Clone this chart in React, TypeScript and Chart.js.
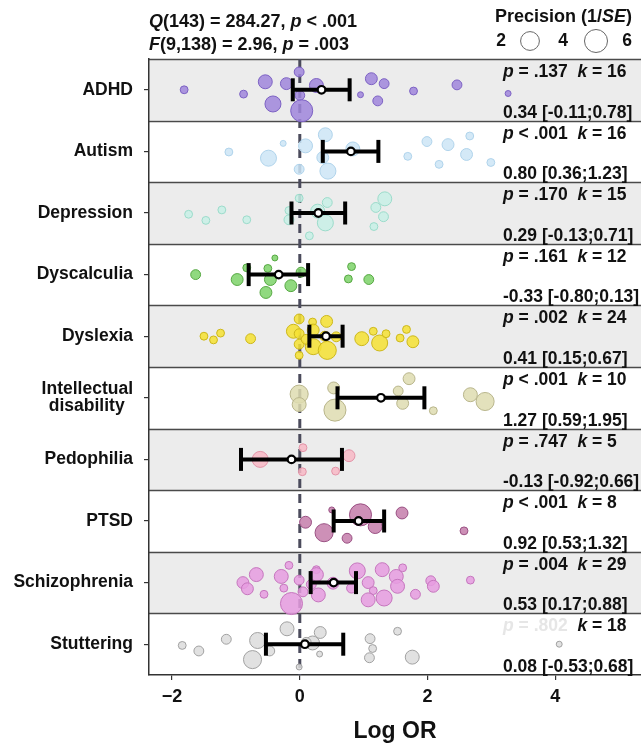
import React, { useEffect, useRef } from 'react';
import { Chart, registerables } from 'chart.js';
Chart.register(...registerables);

const FONT = '"Liberation Sans", Arial, Helvetica, sans-serif';

const categories = ['ADHD', 'Autism', 'Depression', 'Dyscalculia', 'Dyslexia', 'Intellectual disability', 'Pedophilia', 'PTSD', 'Schizophrenia', 'Stuttering'];
const estimates = [0.34, 0.80, 0.29, -0.33, 0.41, 1.27, -0.13, 0.92, 0.53, 0.08];
const ciLower = [-0.11, 0.36, -0.13, -0.80, 0.15, 0.59, -0.92, 0.53, 0.17, -0.53];
const ciUpper = [0.78, 1.23, 0.71, 0.13, 0.67, 1.95, 0.66, 1.32, 0.88, 0.68];
const pLabels = ['= .137', '< .001', '= .170', '= .161', '= .002', '< .001', '= .747', '< .001', '= .004', '= .802'];
const kValues = [16, 16, 15, 12, 24, 10, 5, 8, 29, 18];
const xTicks = [-2, 0, 2, 4];
const legendLabels = [2, 4, 6];
const legendKeys = [4, 6];

// studies: [log OR, precision (1/SE), vertical jitter]
const adhd = [[-1.81,0.7,0.00],[-0.88,0.7,0.07],[-0.54,2.2,-0.13],[-0.42,2.9,0.23],[-0.21,1.6,-0.10],[-0.01,1.1,-0.29],[0.00,1.1,0.09],[0.03,5.5,0.34],[0.26,2.2,-0.07],[0.95,0.4,0.08],[1.12,1.6,-0.18],[1.22,1.1,0.18],[1.32,1.1,-0.10],[1.78,0.7,0.02],[2.46,1.1,-0.08],[3.26,0.4,0.06]];
const autism = [[-1.11,0.7,0.01],[-0.49,2.9,0.11],[-0.26,0.4,-0.13],[0.09,2.2,-0.09],[-0.01,1.1,0.29],[0.40,2.2,-0.27],[0.36,1.6,0.10],[0.44,2.9,0.32],[0.83,2.2,-0.04],[1.69,0.7,0.08],[1.99,1.1,-0.16],[2.18,0.7,0.21],[2.32,1.6,-0.11],[2.61,1.6,0.05],[2.66,0.7,-0.25],[2.99,0.7,0.18]];
const depression = [[-1.74,0.7,0.02],[-1.47,0.7,0.12],[-1.22,0.7,-0.05],[-0.83,0.7,0.11],[-0.17,0.7,-0.04],[-0.17,1.1,0.11],[-0.01,0.7,-0.24],[0.15,0.7,0.37],[0.28,2.2,-0.03],[0.43,1.1,-0.17],[0.40,2.9,0.16],[1.19,1.1,-0.09],[1.33,2.2,-0.23],[1.31,1.1,0.06],[1.16,0.7,0.22]];
const dyscalculia = [[-1.63,1.1,0.00],[-0.98,1.6,0.08],[-0.83,0.7,-0.11],[-0.50,0.7,-0.10],[-0.39,0.4,-0.27],[-0.46,1.6,0.08],[-0.53,1.6,0.29],[-0.14,1.6,0.18],[0.02,1.1,-0.04],[0.81,0.7,-0.13],[0.76,0.7,0.07],[1.08,1.1,0.08]];
const dyslexia = [[-1.50,0.7,0.00],[-1.35,0.7,0.06],[-1.24,0.7,-0.05],[-0.77,1.1,0.04],[-0.10,2.2,-0.08],[-0.01,1.1,-0.28],[-0.01,1.1,-0.04],[-0.01,1.1,0.13],[-0.01,0.7,0.31],[0.20,0.7,-0.23],[0.21,1.6,-0.10],[0.42,1.6,-0.24],[0.21,2.9,0.17],[0.43,3.7,0.23],[0.10,1.1,0.05],[0.39,1.1,0.00],[0.97,2.2,0.04],[1.15,0.7,-0.08],[1.25,2.9,0.11],[1.35,0.7,-0.04],[1.57,0.7,0.03],[1.67,0.7,-0.11],[1.77,1.6,0.09],[0.57,1.1,0.01]];
const intellectual = [[-0.01,3.7,-0.06],[-0.01,2.2,0.11],[0.53,1.6,-0.16],[0.55,5.5,0.20],[1.54,1.1,-0.11],[1.61,1.6,0.09],[1.71,1.6,-0.31],[2.09,0.7,0.21],[2.67,2.2,-0.05],[2.90,3.7,0.06]];
const pedophilia = [[-0.62,2.9,0.00],[0.05,0.7,-0.19],[0.04,0.7,0.20],[0.56,0.7,0.19],[0.77,1.6,-0.06]];
const ptsd = [[0.09,1.6,0.02],[0.38,3.7,0.19],[0.50,0.4,-0.18],[0.74,1.1,0.28],[0.95,5.5,-0.10],[1.18,2.2,0.09],[1.60,1.6,-0.13],[2.57,0.7,0.16]];
const schizophrenia = [[-0.89,1.6,0.00],[-0.82,1.6,0.10],[-0.68,2.2,-0.13],[-0.56,0.7,0.19],[-0.17,0.7,-0.28],[-0.29,2.2,-0.10],[-0.25,0.7,0.09],[-0.13,5.5,0.34],[-0.01,1.1,-0.04],[0.05,1.1,0.15],[0.26,0.7,-0.21],[0.26,2.2,-0.13],[0.29,2.2,0.20],[0.90,2.9,-0.19],[1.07,1.6,0.00],[1.15,0.7,0.13],[1.07,2.2,0.28],[1.32,2.9,0.25],[1.29,2.2,-0.21],[1.51,2.2,-0.10],[1.53,2.2,0.06],[1.61,0.7,-0.24],[1.81,1.1,0.19],[2.05,1.1,-0.03],[2.09,1.6,0.06],[2.67,0.7,-0.04],[0.52,1.6,0.01],[0.81,1.1,0.09],[0.18,1.1,0.03]];
const stuttering = [[-1.84,0.7,0.02],[-1.58,1.1,0.11],[-1.15,1.1,-0.08],[-0.74,3.7,0.25],[-0.66,2.9,-0.06],[-0.47,1.1,0.11],[-0.20,2.2,-0.25],[-0.01,0.4,0.37],[0.20,2.2,-0.02],[0.32,1.6,-0.19],[0.31,0.4,0.16],[1.10,1.1,-0.09],[1.14,0.7,0.07],[1.09,1.1,0.22],[1.53,0.7,-0.21],[1.76,2.2,0.21],[4.06,0.4,0.00],[0.10,1.1,-0.03]];

const studies = [adhd, autism, depression, dyscalculia, dyslexia, intellectual, pedophilia, ptsd, schizophrenia, stuttering];

const fills = ['rgba(160,134,220,0.85)', 'rgba(205,229,246,0.85)', 'rgba(200,240,230,0.85)', 'rgba(124,210,104,0.85)', 'rgba(246,226,50,0.85)', 'rgba(222,220,176,0.85)', 'rgba(248,184,198,0.85)', 'rgba(196,124,170,0.85)', 'rgba(230,156,224,0.85)', 'rgba(220,220,220,0.85)'];
const strokes = ['#7d62c4', '#b0d4ec', '#9cdccb', '#56a842', '#cdb81c', '#b9b68c', '#e394a8', '#9a5083', '#c676be', '#a2a2a2'];

const radius = (p: number) => 4.7 * Math.sqrt(p);

function drawSegments(ctx: CanvasRenderingContext2D, segs: [string, boolean, string?][], x: number, y: number, size: number) {
  let cx = x;
  for (const [t, it, col] of segs) {
    ctx.font = `${it ? 'italic ' : ''}bold ${size}px ${FONT}`;
    ctx.fillStyle = col || '#111';
    ctx.fillText(t, cx, y);
    cx += ctx.measureText(t).width;
  }
}

const bandPlugin = {
  id: 'bands',
  beforeDraw(chart: any) {
    const { ctx, chartArea, scales } = chart;
    const y = scales.y;
    ctx.save();
    categories.forEach((_, i) => {
      const t = y.getPixelForValue(i - 0.5);
      const b = y.getPixelForValue(i + 0.5);
      ctx.fillStyle = i % 2 === 0 ? '#ececec' : '#ffffff';
      ctx.fillRect(chartArea.left, t, chartArea.right - chartArea.left, b - t);
    });
    ctx.strokeStyle = '#4a4a4a';
    ctx.lineWidth = 1.5;
    for (let i = 0; i < categories.length; i++) {
      const t = Math.round(y.getPixelForValue(i - 0.5)) + 0.5;
      ctx.beginPath();
      ctx.moveTo(chartArea.left, t);
      ctx.lineTo(chartArea.right, t);
      ctx.stroke();
    }
    ctx.restore();
  },
  beforeDatasetsDraw(chart: any) {
    const { ctx, chartArea, scales } = chart;
    const x0 = scales.x.getPixelForValue(0);
    ctx.save();
    ctx.strokeStyle = '#4b4b5c';
    ctx.lineWidth = 3;
    ctx.setLineDash([9, 6]);
    ctx.beginPath();
    ctx.moveTo(x0, chartArea.top);
    ctx.lineTo(x0, chartArea.bottom);
    ctx.stroke();
    ctx.restore();
  },
  afterDraw(chart: any) {
    const { ctx, scales, chartArea } = chart;
    const y = scales.y;
    ctx.save();
    ctx.textBaseline = 'alphabetic';
    ctx.textAlign = 'left';
    // stats
    drawSegments(ctx, [['Q', true], ['(143) = 284.27, ', false], ['p', true], [' < .001', false]], chartArea.left, 27, 18);
    drawSegments(ctx, [['F', true], ['(9,138) = 2.96, ', false], ['p', true], [' = .003', false]], chartArea.left, 50, 18);
    // legend
    drawSegments(ctx, [['Precision (1/', false], ['SE', true], [')', false]], 495, 22, 18);
    ctx.textAlign = 'center';
    ctx.textBaseline = 'middle';
    ctx.font = `bold 17.5px ${FONT}`;
    ctx.fillStyle = '#111';
    const lx = [501, 563, 627];
    legendLabels.forEach((l, i) => ctx.fillText(String(l), lx[i], 41));
    const cx = [530, 596];
    legendKeys.forEach((p, i) => {
      ctx.beginPath();
      ctx.arc(cx[i], 41, radius(p), 0, Math.PI * 2);
      ctx.fillStyle = '#fff';
      ctx.fill();
      ctx.strokeStyle = '#666';
      ctx.lineWidth = 1;
      ctx.stroke();
    });
    // right annotations
    ctx.textAlign = 'left';
    ctx.textBaseline = 'alphabetic';
    categories.forEach((_, i) => {
      const t = y.getPixelForValue(i - 0.5);
      const b = y.getPixelForValue(i + 0.5);
      const faded = i === 9 ? '#e6e6e6' : undefined;
      drawSegments(ctx, [['p', true, faded], [' ' + pLabels[i] + '  ', false, faded], ['k', true], [' = ' + kValues[i], false]], 503, t + 18, 17.5);
      const txt = `${estimates[i].toFixed(2)} [${ciLower[i].toFixed(2)};${ciUpper[i].toFixed(2)}]`;
      drawSegments(ctx, [[txt, false]], 503, b - 3, 17.5);
    });
    ctx.restore();
  },
};

export default function App() {
  const ref = useRef<HTMLCanvasElement | null>(null);
  useEffect(() => {
    document.body.style.margin = '0';
    document.body.style.overflow = 'hidden';
    document.documentElement.style.overflow = 'hidden';
    Chart.defaults.font.family = FONT;
    const datasets: any[] = [];
    studies.forEach((arr, i) => {
      datasets.push({
        type: 'bubble',
        data: arr.map(([x, p, j]) => ({ x, y: i + j, r: radius(p) })),
        backgroundColor: fills[i],
        borderColor: strokes[i],
        borderWidth: 1,
        order: 3,
      });
    });
    categories.forEach((_, i) => {
      datasets.push({
        type: 'line',
        data: [{ x: ciLower[i], y: i }, { x: ciUpper[i], y: i }],
        borderColor: '#000',
        borderWidth: 4,
        pointStyle: 'line',
        pointRotation: 90,
        pointRadius: 11.5,
        pointBorderWidth: 4,
        pointBorderColor: '#000',
        showLine: true,
        order: 2,
      });
    });
    datasets.push({
      type: 'scatter',
      data: estimates.map((x, i) => ({ x, y: i })),
      pointRadius: 3.8,
      pointBackgroundColor: '#fff',
      pointBorderColor: '#000',
      pointBorderWidth: 2.2,
      order: 1,
    });
    const chart = new Chart(ref.current!, {
      type: 'bubble',
      data: { datasets },
      plugins: [bandPlugin],
      options: {
        animation: false,
        responsive: false,
        events: [],
        layout: { autoPadding: false, padding: { top: 59, left: 0, right: 0, bottom: 0 } },
        plugins: { legend: { display: false }, tooltip: { enabled: false } },
        scales: {
          x: {
            type: 'linear',
            min: -2.36,
            max: 5.34,
            afterBuildTicks: (s: any) => { s.ticks = xTicks.map((v) => ({ value: v })); },
            afterFit: (s: any) => { s.height = 70; },
            ticks: {
              callback: (v: any) => (v < 0 ? '\u2212' + Math.abs(v) : String(v)),
              font: { size: 18, weight: 'bold' },
              color: '#111',
              padding: 6,
              maxRotation: 0,
            },
            grid: { drawOnChartArea: false, drawTicks: true, tickLength: 5, color: '#333', lineWidth: 1.2 },
            border: { display: true, color: '#333', width: 1.5 },
            title: { display: true, text: 'Log OR', font: { size: 23, weight: 'bold' }, color: '#111', padding: { top: 0, bottom: 0 } },
          },
          y: {
            type: 'linear',
            min: -0.5,
            max: 9.5,
            reverse: true,
            afterBuildTicks: (s: any) => { s.ticks = categories.map((_, i) => ({ value: i })); },
            afterFit: (s: any) => { s.width = 149; },
            ticks: {
              callback: (_v: any, i: number) => (categories[i] === 'Intellectual disability' ? ['Intellectual', 'disability\u00A0\u2009'] : categories[i]),
              font: { size: 17.5, weight: 'bold', lineHeight: 1.0 },
              color: '#111',
              padding: 11,
              autoSkip: false,
            },
            grid: { drawOnChartArea: false, drawTicks: true, tickLength: 5, color: '#333', lineWidth: 1.2 },
            border: { display: true, color: '#333', width: 1.5 },
          },
        },
      } as any,
    });
    return () => chart.destroy();
  }, []);
  return (
    <div style={{ width: 641, height: 745, overflow: 'hidden' }}>
      <canvas ref={ref} width={641} height={745} style={{ display: 'block', width: 641, height: 745 }} />
    </div>
  );
}
